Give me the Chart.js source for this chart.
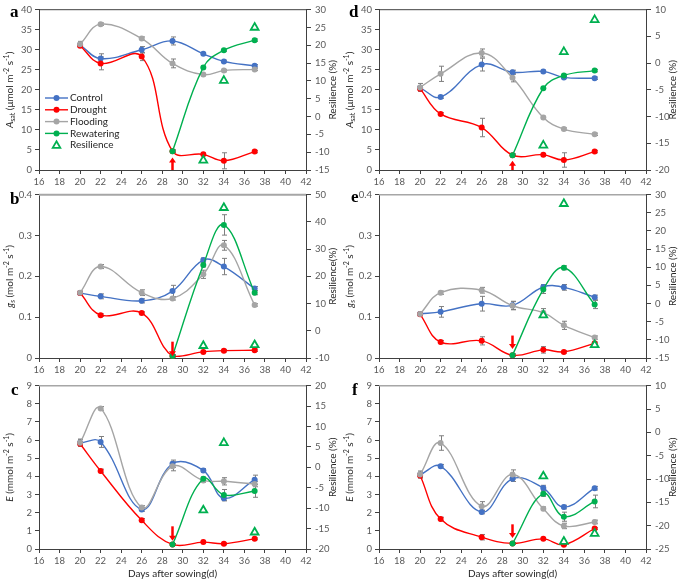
<!DOCTYPE html>
<html>
<head>
<meta charset="utf-8">
<script src="https://cdn.jsdelivr.net/npm/chart.js@4.4.1/dist/chart.umd.min.js"></script>
<style>
  body { margin: 0; background: #fff; width: 685px; height: 582px; position: relative; overflow: hidden; }
  canvas { position: absolute; }
  .lab { position: absolute; font: bold 17px "Liberation Serif", serif; line-height: 17px; color: #000; }
</style>
</head>
<body>
<script>
// x positions (days after sowing)
const days = [20, 22, 26, 29, 32, 34, 37];
const rewDays = [29, 32, 34, 37];
const resDays = [32, 34, 37];
const seriesNames = ['Control', 'Drought', 'Flooding', 'Rewatering', 'Resilience'];

// a: A_sat, first set
const aControl = [31.2, 27.8, 30.0, 32.2, 29.0, 27.1, 26.0];
const aDrought = [31.0, 26.6, 28.3, 4.7, 3.9, 2.3, 4.6];
const aFlooding = [31.4, 36.4, 32.8, 26.6, 23.8, 24.8, 25.1];
const aRewater = [4.7, 25.6, 29.9, 32.4];
const aResil = [-12.3, 10.1, 25.0];
const aErr = [[0.5, 1.2, 0.8, 1.0, 0.3, 0.3, 0.3], [0.3, 1.6, 1.0, 0.3, 0.3, 2.0, 0.3], [0.7, 0.3, 0.4, 1.1, 0.3, 0.3, 0.3], [0.3, 0.3, 0.3, 0.3]];
const aArrow = [0, 3.1];

// b: g_s, first set
const bControl = [0.159, 0.151, 0.140, 0.164, 0.240, 0.224, 0.170];
const bDrought = [0.159, 0.105, 0.110, 0.005, 0.015, 0.018, 0.019];
const bFlooding = [0.160, 0.224, 0.160, 0.146, 0.205, 0.276, 0.130];
const bRewater = [0.005, 0.228, 0.326, 0.160];
const bResil = [-5.5, 45.2, -5.2];
const bErr = [[0.003, 0.006, 0.005, 0.014, 0.005, 0.02, 0.005], [0, 0.003, 0.003, 0.003, 0.003, 0.003, 0.003], [0.004, 0.005, 0.007, 0.004, 0.01, 0.012, 0.003], [0.003, 0.005, 0.025, 0.005]];
const bArrow = [0.04, 0.004];

// c: E, first set
const cControl = [5.85, 5.9, 2.18, 4.7, 4.33, 2.8, 3.82];
const cDrought = [5.8, 4.3, 1.58, 0.25, 0.38, 0.29, 0.56];
const cFlooding = [5.85, 7.75, 2.29, 4.56, 3.78, 3.73, 3.58];
const cRewater = [0.25, 3.87, 2.98, 3.2];
const cResil = [-10.5, 6.0, -15.9];
const cErr = [[0.2, 0.3, 0.1, 0.2, 0.1, 0.15, 0.25], [0.1, 0.1, 0.1, 0.05, 0.05, 0.05, 0.05], [0.2, 0.1, 0.1, 0.25, 0.1, 0.2, 0.15], [0.05, 0.1, 0.3, 0.35]];
const cArrow = [1.25, 0.45];

// d: A_sat, second set
const dControl = [20.5, 18.2, 26.3, 24.4, 24.6, 23.1, 22.9];
const dDrought = [20.3, 14.0, 10.6, 3.7, 3.8, 2.5, 4.6];
const dFlooding = [20.6, 24.0, 29.2, 23.0, 13.1, 10.2, 8.9];
const dRewater = [3.7, 20.4, 23.6, 24.8];
const dResil = [-15.4, 2.1, 8.1];
const dErr = [[0.6, 0.3, 1.6, 0.5, 0.3, 0.3, 0.3], [0.3, 0.3, 2.3, 0.3, 0.3, 1.8, 0.3], [1.0, 1.9, 1.0, 1.0, 0.3, 0.3, 0.3], [0.3, 0.3, 0.3, 0.3]];
const dArrow = [0, 2.3];

// e: g_s, second set
const eControl = [0.108, 0.113, 0.133, 0.129, 0.174, 0.173, 0.149];
const eDrought = [0.107, 0.039, 0.042, 0.007, 0.020, 0.015, 0.036];
const eFlooding = [0.108, 0.160, 0.166, 0.128, 0.111, 0.080, 0.050];
const eRewater = [0.007, 0.168, 0.221, 0.131];
const eResil = [-3.2, 27.5, -11.4];
const eErr = [[0.004, 0.013, 0.018, 0.01, 0.006, 0.007, 0.005], [0.003, 0.004, 0.01, 0.003, 0.008, 0.003, 0.003], [0.004, 0.004, 0.007, 0.01, 0.01, 0.01, 0.004], [0.003, 0.01, 0.005, 0.01]];
const eArrow = [0.055, 0.022];

// f: E, second set
const fControl = [4.09, 4.56, 2.04, 3.87, 3.36, 2.31, 3.35];
const fDrought = [4.05, 1.65, 0.65, 0.31, 0.56, 0.24, 1.13];
const fFlooding = [4.1, 5.84, 2.36, 4.11, 2.22, 1.27, 1.49];
const fRewater = [0.31, 3.05, 1.78, 2.62];
const fResil = [-9.4, -23.4, -21.7];
const fErr = [[0.15, 0.1, 0.1, 0.15, 0.15, 0.1, 0.1], [0.1, 0.1, 0.15, 0.05, 0.05, 0.05, 0.05], [0.2, 0.4, 0.25, 0.25, 0.1, 0.15, 0.1], [0.05, 0.15, 0.25, 0.35]];
const fArrow = [1.36, 0.6];

const aTitle = [{t: 'A', i: 1}, {t: 'sat', sub: 1}, {t: ' (μmol m'}, {t: '-2', sup: 1}, {t: ' s'}, {t: '-1', sup: 1}, {t: ')'}];
const gTitle = [{t: 'g', i: 1}, {t: 's', sub: 1, i: 1}, {t: ' (mol m'}, {t: '-2', sup: 1}, {t: ' s'}, {t: '-1', sup: 1}, {t: ')'}];
const eTitle = [{t: 'E', i: 1}, {t: ' (mmol m'}, {t: '-2', sup: 1}, {t: ' s'}, {t: '-1', sup: 1}, {t: ')'}];

const colors = ['#4472C4', '#FF0000', '#A5A5A5', '#00B050', '#00B050'];
const FONT = 'Lato, sans-serif';
const INK = '#404040';
const TICK = 9.5;

const panels = [
  {lab: 'a', left: 0, top: 0, pad: 5, xh: 18, y: [0, 40, 5], y2: [-15, 30, 5], vals: [aControl, aDrought, aFlooding, aRewater, aResil], err: aErr, arrow: aArrow, yt: aTitle, y2t: 'Resilience (%)', legend: true, topCol: '#404040', topW: 1, labPos: [10, 17]},
  {lab: 'b', left: 0, top: 185, pad: 8, xh: 18, y: [0, 0.4, 0.1], y2: [-10, 50, 10], vals: [bControl, bDrought, bFlooding, bRewater, bResil], err: bErr, arrow: bArrow, yt: gTitle, y2t: 'Resilience(%)', topCol: '#a6a6a6', topW: 2, labPos: [10, 204]},
  {lab: 'c', left: 0, top: 376, pad: 8, xh: 33, y: [0, 9, 1], y2: [-20, 20, 5], vals: [cControl, cDrought, cFlooding, cRewater, cResil], err: cErr, arrow: cArrow, yt: eTitle, y2t: 'Resilience (%)', xt: 'Days after sowing(d)', topCol: '#a6a6a6', topW: 1.5, labPos: [11, 395]},
  {lab: 'd', left: 340, top: 0, pad: 5, xh: 18, y: [0, 40, 5], y2: [-20, 10, 5], vals: [dControl, dDrought, dFlooding, dRewater, dResil], err: dErr, arrow: dArrow, yt: aTitle, y2t: 'Resilience (%)', topCol: '#404040', topW: 1, labPos: [349, 17]},
  {lab: 'e', left: 340, top: 185, pad: 8, xh: 18, y: [0, 0.4, 0.1], y2: [-15, 30, 5], vals: [eControl, eDrought, eFlooding, eRewater, eResil], err: eErr, arrow: eArrow, yt: gTitle, y2t: 'Resilience (%)', topCol: '#a6a6a6', topW: 1.5, labPos: [351, 202]},
  {lab: 'f', left: 340, top: 376, pad: 8, xh: 33, y: [0, 9, 1], y2: [-25, 10, 5], vals: [fControl, fDrought, fFlooding, fRewater, fResil], err: fErr, arrow: fArrow, yt: eTitle, y2t: 'Resilience (%)', xt: 'Days after sowing(d)', topCol: '#a6a6a6', topW: 1.5, labPos: [352, 395]},
];

function richText(ctx, parts, cx, cy, size, rot) {
  ctx.save();
  ctx.translate(cx, cy);
  ctx.rotate(rot);
  const fnt = p => (p.i ? 'italic ' : '') + ((p.sub || p.sup) ? size * 0.7 : size) + 'px ' + FONT;
  let w = 0;
  parts.forEach(p => { ctx.font = fnt(p); w += ctx.measureText(p.t).width; });
  let x = -w / 2;
  ctx.textBaseline = 'middle';
  ctx.textAlign = 'left';
  ctx.fillStyle = '#262626';
  parts.forEach(p => {
    ctx.font = fnt(p);
    const dy = p.sub ? size * 0.3 : p.sup ? -size * 0.35 : 0;
    ctx.fillText(p.t, x, dy);
    x += ctx.measureText(p.t).width;
  });
  ctx.restore();
}

const extras = {
  id: 'extras',
  beforeDatasetsDraw(chart, args, o) {
    const ctx = chart.ctx, xs = chart.scales.x;
    ctx.save();
    ctx.strokeStyle = '#7f7f7f';
    ctx.lineWidth = 1;
    chart.data.datasets.forEach(ds => {
      if (!ds.err) return;
      const ys = chart.scales[ds.yAxisID || 'y'];
      ds.data.forEach((pt, j) => {
        const e = ds.err[j];
        if (!e) return;
        const px = Math.round(xs.getPixelForValue(pt.x)) + 0.5;
        const y1 = ys.getPixelForValue(pt.y + e), y2 = ys.getPixelForValue(pt.y - e);
        ctx.beginPath();
        ctx.moveTo(px, y1); ctx.lineTo(px, y2);
        ctx.moveTo(px - 2.5, y1); ctx.lineTo(px + 2.5, y1);
        ctx.moveTo(px - 2.5, y2); ctx.lineTo(px + 2.5, y2);
        ctx.stroke();
      });
    });
    ctx.restore();
  },
  afterDatasetsDraw(chart, args, o) {
    const ctx = chart.ctx, ca = chart.chartArea, xs = chart.scales.x, ys = chart.scales.y;
    ctx.save();
    // top frame line
    ctx.strokeStyle = o.topCol;
    ctx.lineWidth = o.topW;
    ctx.beginPath(); ctx.moveTo(ca.left, ca.top); ctx.lineTo(ca.right, ca.top); ctx.stroke();
    // red arrow at rewatering day
    const ax = xs.getPixelForValue(o.arrowX);
    const yFrom = ys.getPixelForValue(o.arrow[0]), yTo = ys.getPixelForValue(o.arrow[1]);
    const dir = yTo > yFrom ? 1 : -1;
    ctx.strokeStyle = '#FF0000';
    ctx.fillStyle = '#FF0000';
    ctx.lineWidth = 2.5;
    ctx.beginPath(); ctx.moveTo(ax, yFrom); ctx.lineTo(ax, yTo - dir * 4); ctx.stroke();
    ctx.beginPath();
    ctx.moveTo(ax - 3.5, yTo - dir * 5); ctx.lineTo(ax + 3.5, yTo - dir * 5); ctx.lineTo(ax, yTo);
    ctx.closePath(); ctx.fill();
    ctx.restore();
  },
  afterDraw(chart, args, o) {
    const ctx = chart.ctx, ca = chart.chartArea;
    richText(ctx, o.yt, ca.left - 29, (ca.top + ca.bottom) / 2, 10, -Math.PI / 2);
    richText(ctx, [{t: o.y2t}], ca.right + 27, (ca.top + ca.bottom) / 2, 10, -Math.PI / 2);
    if (o.xt) richText(ctx, [{t: o.xt}], (ca.left + ca.right) / 2, ca.bottom + 25, 10, 0);
    if (o.legend) {
      ctx.save();
      chart.data.datasets.forEach((ds, k) => {
        const y = 98 + k * 11.8, mx = 56.5;
        if (ds.showLine !== false) {
          ctx.strokeStyle = ds.borderColor; ctx.lineWidth = 1.4;
          ctx.beginPath(); ctx.moveTo(45, y); ctx.lineTo(68, y); ctx.stroke();
          ctx.fillStyle = ds.borderColor;
          ctx.beginPath(); ctx.arc(mx, y, 3, 0, Math.PI * 2); ctx.fill();
        } else {
          ctx.strokeStyle = ds.borderColor; ctx.lineWidth = 1.8; ctx.fillStyle = '#fff';
          ctx.beginPath(); ctx.moveTo(mx, y - 4); ctx.lineTo(mx + 3.8, y + 2.6); ctx.lineTo(mx - 3.8, y + 2.6);
          ctx.closePath(); ctx.fill(); ctx.stroke();
        }
        ctx.fillStyle = '#262626';
        ctx.font = '10px ' + FONT;
        ctx.textBaseline = 'middle';
        ctx.fillText(ds.label, 70, y);
      });
      ctx.restore();
    }
  }
};

const mk = (xs, ys) => xs.map((x, i) => ({x, y: ys[i]}));
const fmt = v => String(Math.round(v * 100) / 100);

function axis(pos, r, w) {
  return {
    type: 'linear', position: pos, min: r[0], max: r[1],
    ticks: {stepSize: r[2], color: '#595959', font: {family: FONT, size: TICK}, padding: pos === 'right' ? 4 : 3, callback: fmt},
    grid: {drawOnChartArea: false, tickLength: pos === 'right' ? 5 : 4, color: INK},
    border: {color: INK, width: 1},
    afterFit: s => { s.width = w; }
  };
}

panels.forEach(p => {
  const h = p.pad + 165 + p.xh + (p.pad === 5 ? 2 : 0);
  const cv = document.createElement('canvas');
  cv.width = 342; cv.height = h;
  cv.style.left = p.left + 'px'; cv.style.top = p.top + 'px';
  document.body.appendChild(cv);
  const lab = document.createElement('div');
  lab.className = 'lab';
  lab.textContent = p.lab;
  lab.style.left = p.labPos[0] + 'px';
  lab.style.top = (p.labPos[1] - 14) + 'px';
  document.body.appendChild(lab);

  const datasets = [0, 1, 2, 3].map(k => ({
    label: seriesNames[k],
    data: mk(k === 3 ? rewDays : days, p.vals[k]),
    err: p.err[k],
    borderColor: colors[k], backgroundColor: colors[k],
    order: 5 - k, clip: 5
  }));
  datasets.push({
    label: seriesNames[4], data: mk(resDays, p.vals[4]), yAxisID: 'y2', showLine: false,
    pointStyle: 'triangle', pointRadius: 4.5, pointBorderWidth: 1.8,
    borderColor: colors[4], backgroundColor: '#fff', order: 1, clip: 8
  });

  new Chart(cv, {
    type: 'line',
    data: {datasets},
    options: {
      responsive: false, animation: false,
      layout: {padding: {top: p.pad, left: 0, right: 0, bottom: 0}},
      elements: {
        line: {tension: 0.4, borderWidth: 1.4},
        point: {radius: 3, borderWidth: 0, hoverRadius: 3}
      },
      scales: {
        x: {
          type: 'linear', min: 16, max: 42,
          ticks: {stepSize: 2, color: '#595959', font: {family: FONT, size: TICK}, padding: 2, maxRotation: 0},
          grid: {drawOnChartArea: false, tickLength: 4, color: INK},
          border: {color: INK, width: 1},
          afterFit: s => { s.height = p.xh + (p.pad === 5 ? 2 : 0); }
        },
        y: axis('left', p.y, 39),
        y2: axis('right', p.y2, 36)
      },
      plugins: {
        legend: {display: false},
        tooltip: {enabled: false},
        extras: {topCol: p.topCol, topW: p.topW, arrowX: 29, arrow: p.arrow, yt: p.yt, y2t: p.y2t, xt: p.xt, legend: p.legend}
      }
    },
    plugins: [extras]
  });
});
</script>
</body>
</html>
